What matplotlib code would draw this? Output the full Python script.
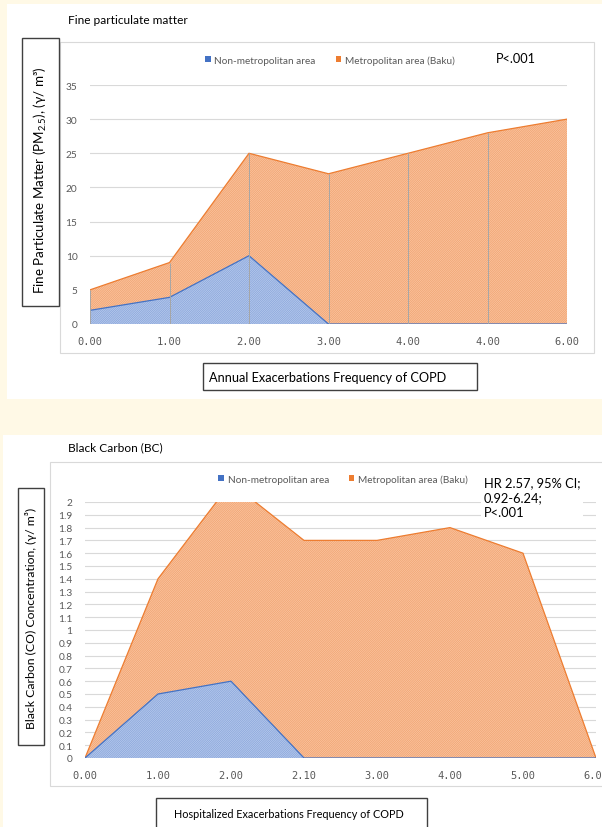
import numpy as np
import matplotlib
matplotlib.use('Agg')
import matplotlib.pyplot as plt
from matplotlib.patches import Rectangle, Patch

plt.rcParams['font.family'] = ['Lato', 'DejaVu Sans']
plt.rcParams['mathtext.fontset'] = 'custom'
plt.rcParams['mathtext.rm'] = 'Lato'
plt.rcParams['hatch.linewidth'] = 0.45

# fine particulate matter (PM2.5)
pm_labels = ['0.00', '1.00', '2.00', '3.00', '4.00', '4.00', '6.00']
pm_non_metro = [2, 3.9, 10, 0, 0, 0, 0]
pm_metro = [5, 9, 25, 22, 25, 28, 30]
pm_yticks = [0, 5, 10, 15, 20, 25, 30, 35]

# black carbon
bc_labels = ['0.00', '1.00', '2.00', '2.10', '3.00', '4.00', '5.00', '6.00']
bc_non_metro = [0, 0.5, 0.6, 0, 0, 0, 0, 0]
bc_metro = [0, 1.4, 2.15, 1.7, 1.7, 1.8, 1.6, 0]
bc_yticks = np.round(np.arange(0, 2.01, 0.1), 1)

series_names = ['Non-metropolitan area', 'Metropolitan area (Baku)']

W, H = 602, 828
BG = '#FFF9E6'
# (face, hatch, outline)
ORANGE = ('#FACDAE', '#F19A62', '#ED7D31')
BLUE = ('#C3D2EF', '#7D9DD8', '#4472C4')
GRID = '#D9D9D9'
TICK = '#595959'
HATCH = '/' * 18

fig = plt.figure(figsize=(W / 100, H / 100), dpi=100, facecolor=BG)


def fbox(l, t, r, b):
    return (l / W, 1 - b / H, (r - l) / W, (b - t) / H)


def rect(l, t, r, b, fc='white', ec='none', lw=0.8, z=-2):
    x, y, w, h = fbox(l, t, r, b)
    fig.add_artist(Rectangle((x, y), w, h, transform=fig.transFigure,
                             facecolor=fc, edgecolor=ec, linewidth=lw, zorder=z))


def ftext(x, y, s, **kw):
    fig.text(x / W, 1 - y / H, s, **kw)


def hatched_area(ax, x, y, colors, z):
    face, hatch, line = colors
    ax.fill_between(x, 0, y, facecolor=face, edgecolor=hatch, hatch=HATCH,
                    linewidth=0, zorder=z)
    ax.plot(x, y, color=line, linewidth=0.9, zorder=z, clip_on=True)


def area_panel(box, labels, non_metro, metro, yticks, ymax, droplines):
    ax = fig.add_axes(fbox(*box))
    ax.set_facecolor('none')
    x = np.arange(len(labels))
    hatched_area(ax, x, metro, ORANGE, 2)
    hatched_area(ax, x, non_metro, BLUE, 3)
    if droplines:
        ax.vlines(x, 0, metro, color='#A6A6A6', linewidth=0.7, zorder=4)
    ax.set_xlim(0, len(labels) - 1)
    ax.set_ylim(0, ymax)
    ax.set_xticks(x)
    ax.set_xticklabels(labels, family='DejaVu Sans Mono', fontsize=7.5, color=TICK)
    ax.set_yticks(yticks)
    ax.set_yticklabels([f'{v:g}' for v in yticks], fontsize=7.3, color=TICK)
    ax.tick_params(length=0, pad=9)
    ax.grid(axis='y', color=GRID, linewidth=0.8, zorder=0)
    ax.set_axisbelow(True)
    for s in ax.spines.values():
        s.set_visible(False)
    return ax


handles = [Patch(facecolor=BLUE[2]), Patch(facecolor=ORANGE[2])]

# ---- top panel: fine particulate matter ----
rect(7, 5, 602, 400)
rect(60, 43, 594, 354, fc='white', ec=GRID, lw=0.8, z=-1)
ftext(68, 20, 'Fine particulate matter', fontsize=8.6, va='center')
area_panel((90, 86, 567, 325), pm_labels, pm_non_metro, pm_metro,
           pm_yticks, 35, True)
fig.legend(handles, series_names, loc='center left',
           bbox_to_anchor=(196 / W, 1 - 61 / H), ncol=2, frameon=False,
           fontsize=7.2, labelcolor=TICK, handlelength=0.55, handleheight=0.55,
           handletextpad=0.4, columnspacing=2.0)
ftext(496, 59, 'P<.001', fontsize=9.2, va='center')
rect(22, 39, 59, 307, fc='white', ec='#404040', lw=1.0, z=1)
ftext(40, 180, r'Fine Particulate Matter $(\mathrm{PM}_{2.5})$, (γ/ m³)',
      rotation=90, fontsize=9.6, ha='center', va='center', zorder=2)
rect(203, 364, 477, 391, fc='white', ec='#404040', lw=1.0, z=1)
ftext(328, 378, 'Annual Exacerbations Frequency of COPD', fontsize=9.2,
      ha='center', va='center', zorder=2)

# ---- bottom panel: black carbon ----
rect(3, 436, 602, 828)
rect(50, 463, 606, 787, fc='white', ec=GRID, lw=0.8, z=-1)
ftext(68, 448, 'Black Carbon (BC)', fontsize=8.6, va='center')
area_panel((85, 503, 596, 759), bc_labels, bc_non_metro, bc_metro,
           bc_yticks, 2, False)
fig.legend(handles, series_names, loc='center left',
           bbox_to_anchor=(209 / W, 1 - 480 / H), ncol=2, frameon=False,
           fontsize=7.2, labelcolor=TICK, handlelength=0.55, handleheight=0.55,
           handletextpad=0.4, columnspacing=2.0)
ftext(484, 477, 'HR 2.57, 95% CI;\n0.92-6.24;\nP<.001', fontsize=9.3,
      ha='left', va='top', linespacing=1.3, zorder=5,
      bbox=dict(facecolor='white', edgecolor='none', pad=2))
rect(18, 489, 44, 746, fc='white', ec='#404040', lw=1.0, z=1)
ftext(31, 618, 'Black Carbon (CO) Concentration, (γ/ m³)', rotation=90,
      fontsize=8.8, ha='center', va='center', zorder=2)
rect(156, 799, 427, 840, fc='white', ec='#404040', lw=1.0, z=1)
ftext(289, 815, 'Hospitalized Exacerbations Frequency of COPD', fontsize=7.8,
      ha='center', va='center', zorder=2)

fig.savefig('out.png', dpi=100, facecolor=BG)
